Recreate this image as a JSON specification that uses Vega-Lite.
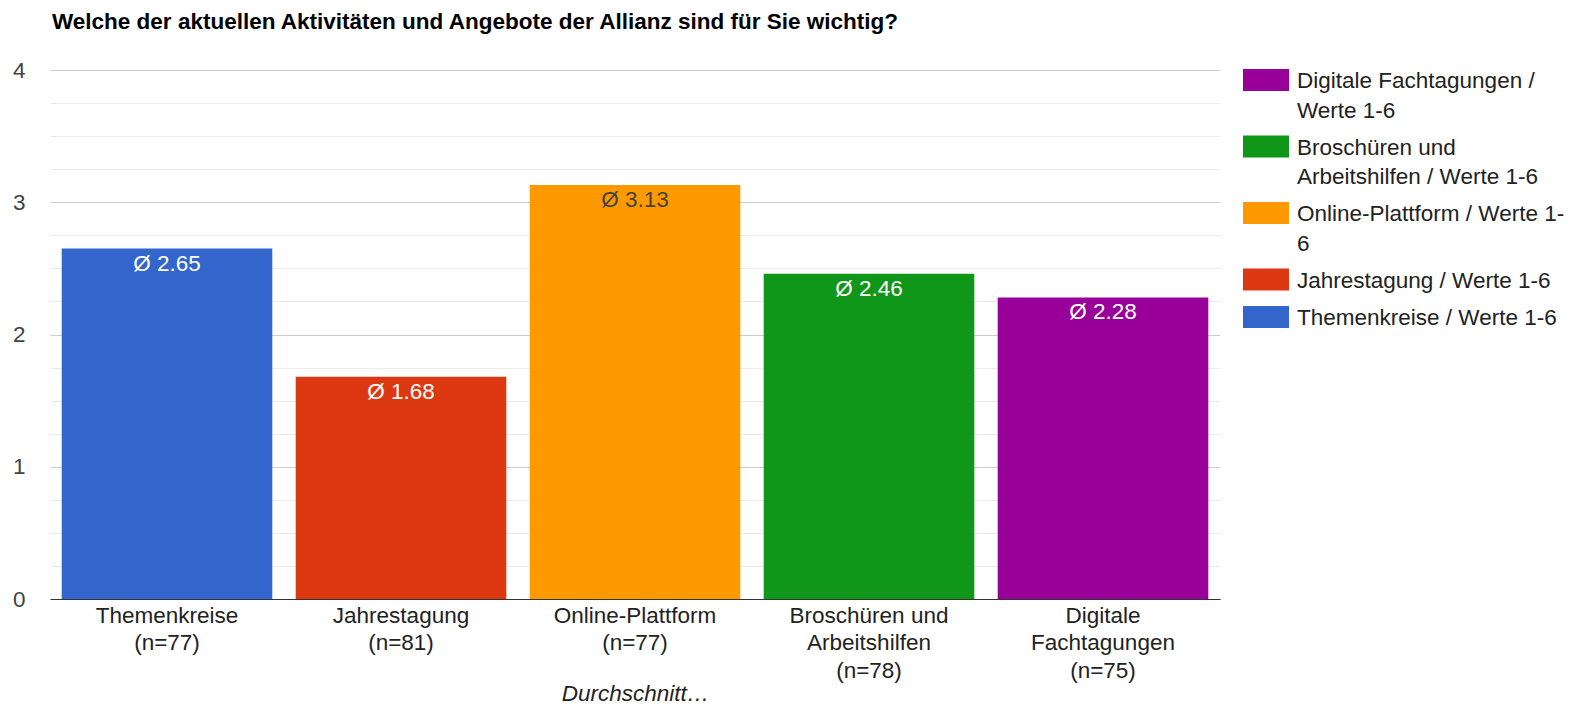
{
  "$schema": "https://vega.github.io/schema/vega-lite/v6.json",
  "width": 1170,
  "height": 529,
  "autosize": {"type": "none"},
  "padding": {"left": 50, "top": 70, "right": 364, "bottom": 108},
  "background": "white",
  "title": {
    "text": "Welche der aktuellen Aktivitäten und Angebote der Allianz sind für Sie wichtig?",
    "anchor": "start",
    "frame": "group",
    "font": "Liberation Sans",
    "fontSize": 22.5,
    "fontWeight": "bold",
    "color": "#000000",
    "offset": 26,
    "dx": 2
  },
  "data": {
    "values": [
      {"kategorie": "Themenkreise|(n=77)", "serie": "Themenkreise / Werte 1-6", "wert": 2.65},
      {"kategorie": "Jahrestagung|(n=81)", "serie": "Jahrestagung / Werte 1-6", "wert": 1.68},
      {"kategorie": "Online-Plattform|(n=77)", "serie": "Online-Plattform / Werte 1-6", "wert": 3.13},
      {"kategorie": "Broschüren und|Arbeitshilfen|(n=78)", "serie": "Broschüren und Arbeitshilfen / Werte 1-6", "wert": 2.46},
      {"kategorie": "Digitale|Fachtagungen|(n=75)", "serie": "Digitale Fachtagungen / Werte 1-6", "wert": 2.28}
    ]
  },
  "transform": [
    {"calculate": "'Ø ' + format(datum.wert, '.2f')", "as": "beschriftung"}
  ],
  "encoding": {
    "x": {
      "field": "kategorie",
      "type": "nominal",
      "sort": null,
      "scale": {"paddingInner": 0.1, "paddingOuter": 0.05},
      "axis": {
        "title": "Durchschnitt…",
        "titleFont": "Liberation Sans",
        "titleFontStyle": "italic",
        "titleFontWeight": "normal",
        "titleFontSize": 22.5,
        "titleColor": "#222222",
        "titlePadding": 1,
        "labelAngle": 0,
        "labelExpr": "split(datum.label, '|')",
        "labelFont": "Liberation Sans",
        "labelFontSize": 22.5,
        "labelColor": "#222222",
        "labelLineHeight": 27.5,
        "labelBaseline": "top",
        "labelPadding": 5,
        "labelLimit": 400,
        "ticks": false,
        "tickSize": 0,
        "domainColor": "#333333",
        "domainWidth": 1,
        "grid": false
      }
    },
    "y": {
      "field": "wert",
      "type": "quantitative",
      "scale": {"domain": [0, 4], "nice": false},
      "axis": {
        "title": null,
        "values": [0, 0.25, 0.5, 0.75, 1, 1.25, 1.5, 1.75, 2, 2.25, 2.5, 2.75, 3, 3.25, 3.5, 3.75, 4],
        "labelExpr": "datum.value % 1 === 0 ? format(datum.value, 'd') : ''",
        "labelOverlap": false,
        "labelFont": "Liberation Sans",
        "labelFontSize": 22.5,
        "labelColor": "#444444",
        "labelPadding": 25,
        "domain": false,
        "ticks": false,
        "tickSize": 0,
        "grid": true,
        "gridColor": {"condition": {"test": "datum.value % 1 === 0", "value": "#cccccc"}, "value": "#ebebeb"},
        "gridWidth": 1
      }
    }
  },
  "layer": [
    {
      "mark": {"type": "bar"},
      "encoding": {
        "color": {
          "field": "serie",
          "type": "nominal",
          "scale": {
            "domain": [
              "Digitale Fachtagungen / Werte 1-6",
              "Broschüren und Arbeitshilfen / Werte 1-6",
              "Online-Plattform / Werte 1-6",
              "Jahrestagung / Werte 1-6",
              "Themenkreise / Werte 1-6"
            ],
            "range": ["#990099", "#109618", "#ff9900", "#dc3912", "#3366cc"]
          },
          "legend": {
            "title": null,
            "orient": "none",
            "legendX": 1193,
            "legendY": -5,
            "padding": 0,
            "symbolType": "M-1,-0.83H1V0.13H-1Z",
            "symbolSize": 2116,
            "symbolStrokeWidth": 0,
            "labelFont": "Liberation Sans",
            "labelFontSize": 22.5,
            "labelColor": "#222222",
            "labelOffset": 8,
            "labelLimit": 400,
            "rowPadding": 9.5,
            "labelBaseline": "alphabetic",
            "labelExpr": "datum.label == 'Digitale Fachtagungen / Werte 1-6' ? ['Digitale Fachtagungen /', 'Werte 1-6'] : datum.label == 'Broschüren und Arbeitshilfen / Werte 1-6' ? ['Broschüren und', 'Arbeitshilfen / Werte 1-6'] : datum.label == 'Online-Plattform / Werte 1-6' ? ['Online-Plattform / Werte 1-', '6'] : datum.label"
          }
        }
      }
    },
    {
      "mark": {"type": "text", "baseline": "middle", "dy": 15, "font": "Liberation Sans", "fontSize": 22.5},
      "encoding": {
        "text": {"field": "beschriftung"},
        "color": {
          "condition": {"test": "datum.serie === 'Online-Plattform / Werte 1-6'", "value": "#444444"},
          "value": "#ffffff"
        }
      }
    }
  ],
  "config": {
    "font": "Liberation Sans",
    "view": {"stroke": null},
    "style": {"guide-label": {"lineHeight": 29.5}}
  }
}
